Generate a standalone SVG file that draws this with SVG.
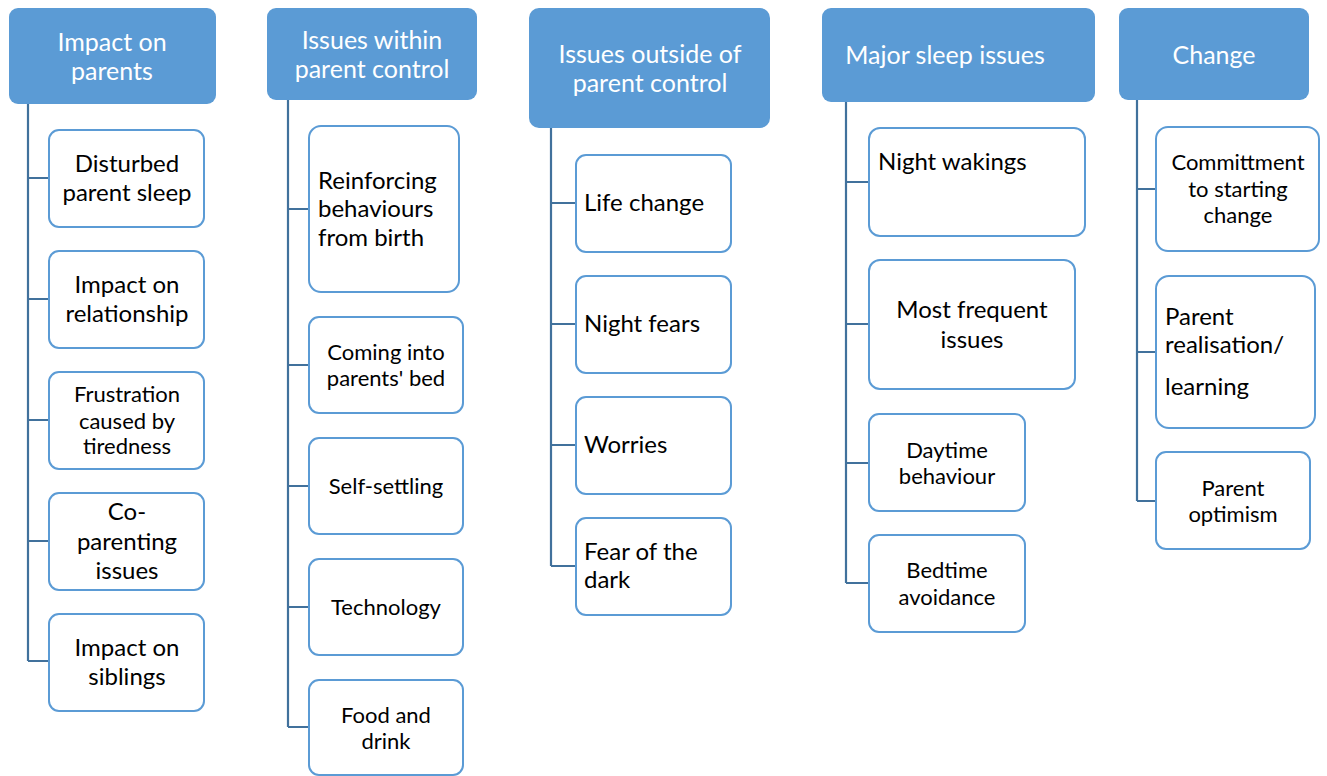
<svg xmlns="http://www.w3.org/2000/svg" width="1327" height="776" viewBox="0 0 1327 776">
  <style>
    .hdr { fill: #5B9BD5; }
    .box { fill: #FFFFFF; stroke: #5B9BD5; stroke-width: 2; }
    .conn { fill: none; stroke: #41719C; stroke-width: 2.2; }
    text { font-family: Lato, "Open Sans", "Liberation Sans", sans-serif; }
    .ht { fill: #FFFFFF; font-size: 25px; text-anchor: middle; }
    .t { fill: #000000; font-size: 24px; text-anchor: middle; }
    .tl { fill: #000000; font-size: 24px; text-anchor: start; }
    .s { fill: #000000; font-size: 22px; text-anchor: middle; }
  </style>

  <!-- tree connectors -->
  <g id="connectors">
    <path class="conn" d="M28 104 V661 M28 178 H49 M28 299 H49 M28 420 H49 M28 541 H49 M28 661 H49"/>
    <path class="conn" d="M288 100 V727 M288 209 H309 M288 365 H309 M288 486 H309 M288 607 H309 M288 727 H309"/>
    <path class="conn" d="M551 128 V566 M551 203 H576 M551 324 H576 M551 445 H576 M551 566 H576"/>
    <path class="conn" d="M846 102 V583 M846 182 H869 M846 324 H869 M846 463 H869 M846 583 H869"/>
    <path class="conn" d="M1137 100 V501 M1137 189 H1156 M1137 352 H1156 M1137 501 H1156"/>
  </g>

  <!-- column 1 -->
  <g id="impact-on-parents">
    <rect class="hdr" x="9" y="8" width="207" height="96" rx="9"/>
    <text class="ht" x="112" y="51">Impact on</text>
    <text class="ht" x="112" y="80">parents</text>
  </g>
  <g id="disturbed-parent-sleep">
    <rect class="box" x="49" y="130" width="155" height="97" rx="10"/>
    <text class="t" x="127" y="172">Disturbed</text>
    <text class="t" x="127" y="201">parent sleep</text>
  </g>
  <g id="impact-on-relationship">
    <rect class="box" x="49" y="251" width="155" height="97" rx="10"/>
    <text class="t" x="127" y="293">Impact on</text>
    <text class="t" x="127" y="322">relationship</text>
  </g>
  <g id="frustration">
    <rect class="box" x="49" y="372" width="155" height="97" rx="10"/>
    <text class="s" x="127" y="402">Frustration</text>
    <text class="s" x="127" y="429">caused by</text>
    <text class="s" x="127" y="454">tiredness</text>
  </g>
  <g id="co-parenting-issues">
    <rect class="box" x="49" y="493" width="155" height="97" rx="10"/>
    <text class="t" x="127" y="520">Co-</text>
    <text class="t" x="127" y="550">parenting</text>
    <text class="t" x="127" y="579">issues</text>
  </g>
  <g id="impact-on-siblings">
    <rect class="box" x="49" y="614" width="155" height="97" rx="10"/>
    <text class="t" x="127" y="656">Impact on</text>
    <text class="t" x="127" y="685">siblings</text>
  </g>

  <!-- column 2 -->
  <g id="issues-within-control">
    <rect class="hdr" x="267" y="8" width="210" height="92" rx="9"/>
    <text class="ht" x="372" y="49">Issues within</text>
    <text class="ht" x="372" y="78">parent control</text>
  </g>
  <g id="reinforcing-behaviours">
    <rect class="box" x="309" y="126" width="150" height="166" rx="12"/>
    <text class="tl" x="318" y="189">Reinforcing</text>
    <text class="tl" x="318" y="217">behaviours</text>
    <text class="tl" x="318" y="246">from birth</text>
  </g>
  <g id="coming-into-bed">
    <rect class="box" x="309" y="317" width="154" height="96" rx="10"/>
    <text class="s" x="386" y="360">Coming into</text>
    <text class="s" x="386" y="386">parents' bed</text>
  </g>
  <g id="self-settling">
    <rect class="box" x="309" y="438" width="154" height="96" rx="10"/>
    <text class="s" x="386" y="494">Self-settling</text>
  </g>
  <g id="technology">
    <rect class="box" x="309" y="559" width="154" height="96" rx="10"/>
    <text class="s" x="386" y="615">Technology</text>
  </g>
  <g id="food-and-drink">
    <rect class="box" x="309" y="680" width="154" height="95" rx="10"/>
    <text class="s" x="386" y="723">Food and</text>
    <text class="s" x="386" y="749">drink</text>
  </g>

  <!-- column 3 -->
  <g id="issues-outside-control">
    <rect class="hdr" x="529" y="8" width="241" height="120" rx="10"/>
    <text class="ht" x="650" y="63">Issues outside of</text>
    <text class="ht" x="650" y="92">parent control</text>
  </g>
  <g id="life-change">
    <rect class="box" x="576" y="155" width="155" height="97" rx="10"/>
    <text class="tl" x="584" y="211">Life change</text>
  </g>
  <g id="night-fears">
    <rect class="box" x="576" y="276" width="155" height="97" rx="10"/>
    <text class="tl" x="584" y="332">Night fears</text>
  </g>
  <g id="worries">
    <rect class="box" x="576" y="397" width="155" height="97" rx="10"/>
    <text class="tl" x="584" y="453">Worries</text>
  </g>
  <g id="fear-of-dark">
    <rect class="box" x="576" y="518" width="155" height="97" rx="10"/>
    <text class="tl" x="584" y="560">Fear of the</text>
    <text class="tl" x="584" y="588">dark</text>
  </g>

  <!-- column 4 -->
  <g id="major-sleep-issues">
    <rect class="hdr" x="822" y="8" width="273" height="94" rx="9"/>
    <text class="ht" x="945" y="64">Major sleep issues</text>
  </g>
  <g id="night-wakings">
    <rect class="box" x="869" y="128" width="216" height="108" rx="11"/>
    <text class="tl" x="878" y="170">Night wakings</text>
  </g>
  <g id="most-frequent-issues">
    <rect class="box" x="869" y="260" width="206" height="129" rx="11"/>
    <text class="t" x="972" y="318" font-size="25">Most frequent</text>
    <text class="t" x="972" y="348" font-size="25">issues</text>
  </g>
  <g id="daytime-behaviour">
    <rect class="box" x="869" y="414" width="156" height="97" rx="10"/>
    <text class="s" x="947" y="458">Daytime</text>
    <text class="s" x="947" y="484">behaviour</text>
  </g>
  <g id="bedtime-avoidance">
    <rect class="box" x="869" y="535" width="156" height="97" rx="10"/>
    <text class="s" x="947" y="578">Bedtime</text>
    <text class="s" x="947" y="605">avoidance</text>
  </g>

  <!-- column 5 -->
  <g id="change">
    <rect class="hdr" x="1119" y="8" width="190" height="92" rx="9"/>
    <text class="ht" x="1214" y="64">Change</text>
  </g>
  <g id="committment">
    <rect class="box" x="1156" y="127" width="163" height="124" rx="12"/>
    <text class="s" x="1238" y="170">Committment</text>
    <text class="s" x="1238" y="197">to starting</text>
    <text class="s" x="1238" y="223">change</text>
  </g>
  <g id="parent-realisation">
    <rect class="box" x="1156" y="276" width="159" height="152" rx="13"/>
    <text class="tl" x="1165" y="325">Parent</text>
    <text class="tl" x="1165" y="353">realisation/</text>
    <text class="tl" x="1165" y="395">learning</text>
  </g>
  <g id="parent-optimism">
    <rect class="box" x="1156" y="452" width="154" height="97" rx="10"/>
    <text class="s" x="1233" y="496">Parent</text>
    <text class="s" x="1233" y="522">optimism</text>
  </g>
</svg>
